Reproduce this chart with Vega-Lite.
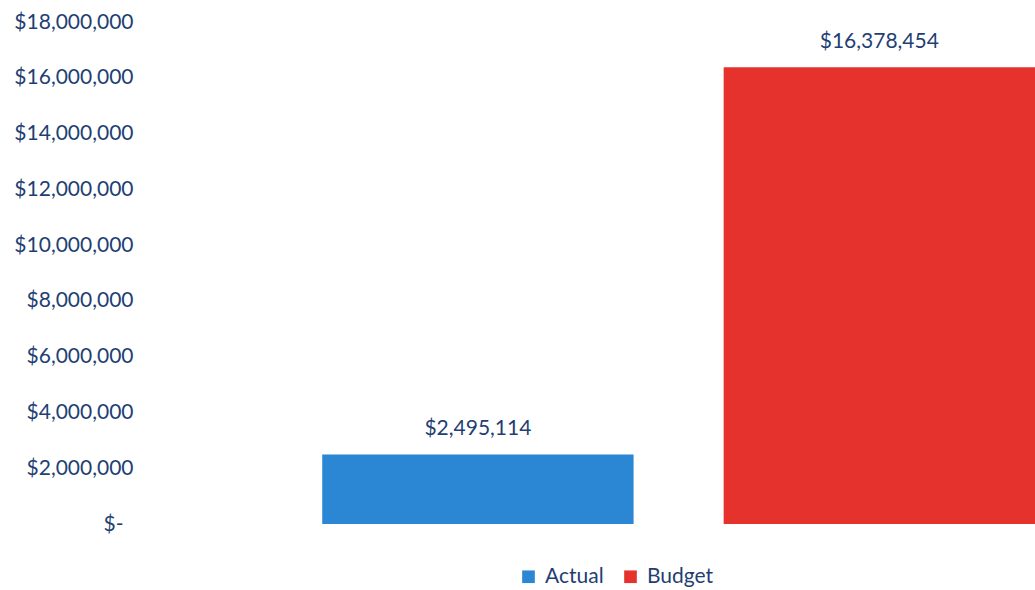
{
  "$schema": "https://vega.github.io/schema/vega-lite/v6.json",
  "width": 891,
  "height": 502,
  "autosize": {"type": "none"},
  "padding": {"left": 144, "top": 22, "right": 0, "bottom": 66},
  "background": "white",
  "config": {"view": {"stroke": null}, "font": "Lato"},
  "data": {"values": [
    {"category": "Actual", "amount": 2495114},
    {"category": "Budget", "amount": 16378454}
  ]},
  "encoding": {
    "x": {"field": "category", "type": "nominal", "sort": null,
      "scale": {"paddingInner": 0.2244, "paddingOuter": 0.222, "align": 1},
      "axis": null},
    "y": {"field": "amount", "type": "quantitative",
      "scale": {"domain": [0, 18000000], "nice": false},
      "axis": {
        "values": [0, 2000000, 4000000, 6000000, 8000000, 10000000, 12000000, 14000000, 16000000, 18000000],
        "labelExpr": "datum.value == 0 ? '$-' : format(datum.value, '$,d')",
        "domain": false, "ticks": false, "grid": false, "title": null,
        "labelFontSize": 21, "labelColor": "#1f3f73",
        "labelPadding": {"condition": {"test": "datum.value == 0", "value": 21}, "value": 11},
        "labelFont": "Lato"
      }}
  },
  "layer": [
    {"mark": {"type": "bar"},
     "encoding": {"color": {"field": "category", "type": "nominal",
       "scale": {"domain": ["Actual", "Budget"], "range": ["#2b87d3", "#e5322d"]},
       "legend": {"orient": "none", "legendX": 374, "legendY": 544, "direction": "horizontal",
         "title": null, "symbolType": "square", "symbolSize": 160,
         "symbolStrokeWidth": 0, "labelFontSize": 21, "labelColor": "#1f3f73", "labelFont": "Lato",
         "columnPadding": 16, "labelOffset": 6}}}},
    {"mark": {"type": "text", "dy": -25, "fontSize": 21, "color": "#1f3f73", "font": "Lato"},
     "encoding": {"text": {"field": "amount", "type": "quantitative", "format": "$,d"}}}
  ]
}
